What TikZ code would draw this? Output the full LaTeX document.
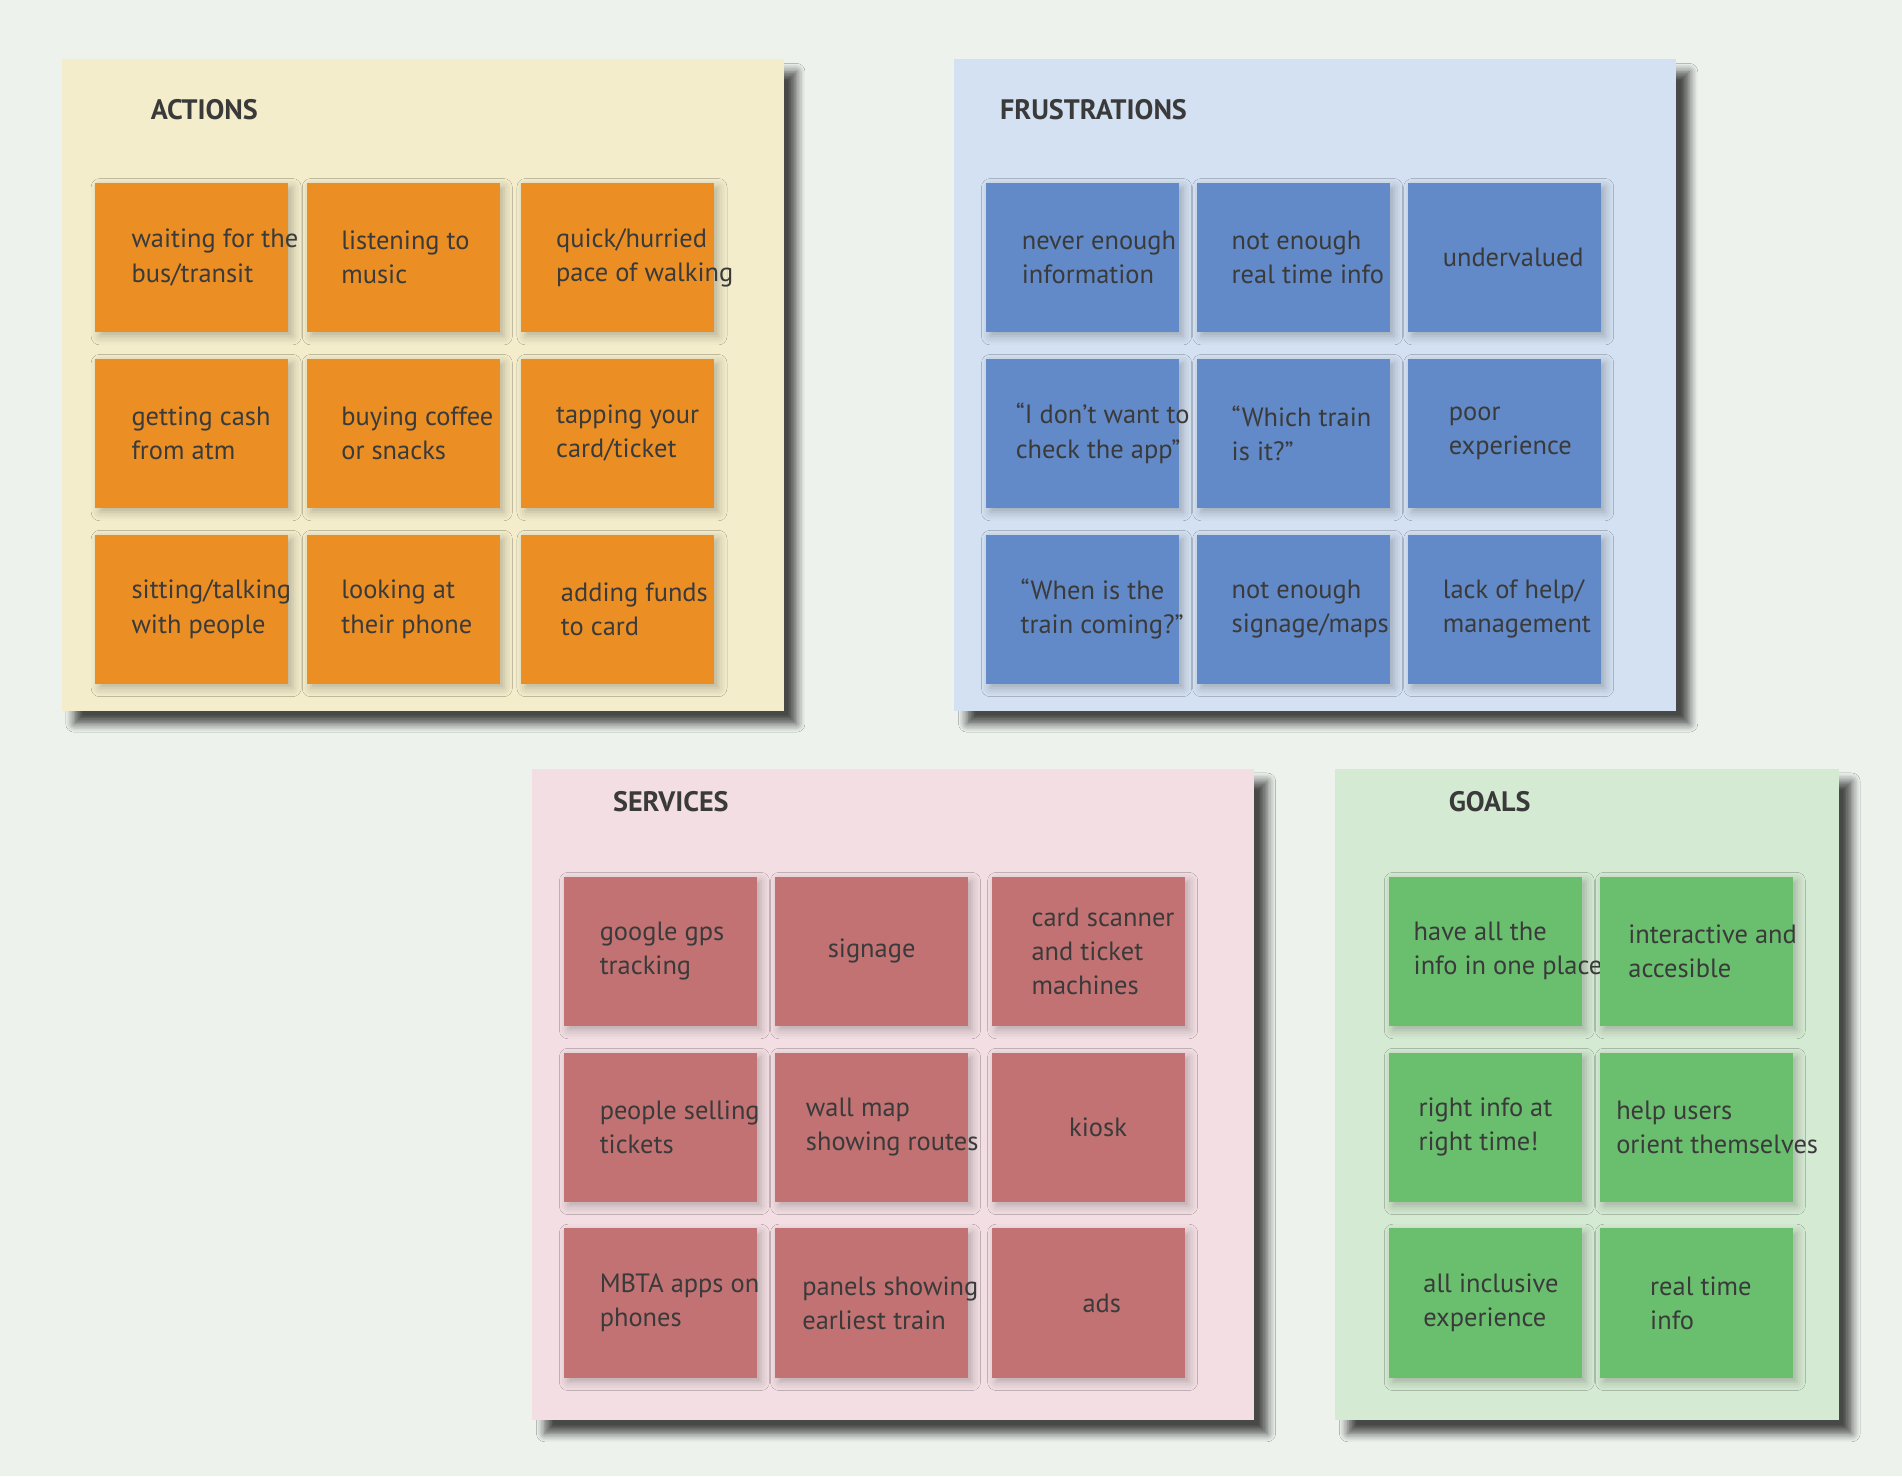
\documentclass[tikz,border=0pt]{standalone}
\usepackage{fontspec}
\setmainfont{PT Sans}
\usetikzlibrary{positioning,shadows.blur}
\definecolor{bgcol}{HTML}{EDF2ED}
\definecolor{actpanel}{HTML}{F4EDCB}
\definecolor{frupanel}{HTML}{D3E1F2}
\definecolor{serpanel}{HTML}{F3DFE3}
\definecolor{goapanel}{HTML}{D5EAD2}
\definecolor{actnote}{HTML}{EB8F25}
\definecolor{frunote}{HTML}{628AC8}
\definecolor{sernote}{HTML}{C27273}
\definecolor{goanote}{HTML}{6ABF6E}
\definecolor{inkcol}{HTML}{3A3A3A}
\tikzset{
  panel/.style={anchor=north west, minimum width=5.95cm, minimum height=5.37cm, inner sep=0pt,
    blur shadow={shadow xshift=3pt, shadow yshift=-3pt, shadow blur steps=6, shadow opacity=70}},
  panelwide/.style={panel, minimum width=4.15cm},
  heading/.style={anchor=west, text=inkcol, font=\fontsize{6.6}{8}\selectfont\bfseries},
  note/.style={anchor=north west, minimum width=1.59cm, minimum height=1.23cm, inner sep=0pt,
    blur shadow={shadow xshift=1pt, shadow yshift=-1pt, shadow blur steps=4, shadow opacity=25}},
  notetext/.style={anchor=west, align=left, text=inkcol, font=\fontsize{6.2}{8}\selectfont}
}
% \notebox{name}{x}{y}{colour}{text offset}{text}
\newcommand{\notebox}[6]{%
  \node[note, fill=#4] (#1) at (#2,#3) {};
  \node[notetext] (#1t) at ([xshift=#5]#1.west) {#6};
}
\begin{document}
\begin{tikzpicture}[x=0.01cm, y=-0.01cm]
  \fill[bgcol] (0,0) rectangle (1568,1217);
  \useasboundingbox (0,0) rectangle (1568,1217);
  % panels
  \node[panel, fill=actpanel] (actions) at (50,48) {};
  \node[panel, fill=frupanel] (frustrations) at (786,48) {};
  \node[panel, fill=serpanel] (services) at (438,633) {};
  \node[panelwide, fill=goapanel] (goals) at (1100,633) {};
  \node[heading] at (112,90) {ACTIONS};
  \node[heading] at (812,90) {FRUSTRATIONS};
  \node[heading] at (493,661) {SERVICES};
  \node[heading] at (1182,661) {GOALS};
  % actions
  \notebox{a1}{78}{150}{actnote}{0.18cm}{waiting for the\\bus/transit}
  \notebox{a2}{252}{150}{actnote}{0.17cm}{listening to\\music}
  \notebox{a3}{429}{150}{actnote}{0.17cm}{quick/hurried\\pace of walking}
  \notebox{a4}{78}{295}{actnote}{0.18cm}{getting cash\\from atm}
  \notebox{a5}{252}{295}{actnote}{0.17cm}{buying coffee\\or snacks}
  \notebox{a6}{429}{295}{actnote}{0.17cm}{tapping your\\card/ticket}
  \notebox{a7}{78}{440}{actnote}{0.18cm}{sitting/talking\\with people}
  \notebox{a8}{252}{440}{actnote}{0.17cm}{looking at\\their phone}
  \notebox{a9}{429}{440}{actnote}{0.21cm}{adding funds\\to card}
  % frustrations
  \notebox{f1}{812}{150}{frunote}{0.18cm}{never enough\\information}
  \notebox{f2}{986}{150}{frunote}{0.17cm}{not enough\\real time info}
  \notebox{f3}{1160}{150}{frunote}{0.17cm}{undervalued}
  \notebox{f4}{812}{295}{frunote}{0.13cm}{“I don’t want to\\check the app”}
  \notebox{f5}{986}{295}{frunote}{0.17cm}{“Which train\\is it?”}
  \notebox{f6}{1160}{295}{frunote}{0.22cm}{poor\\experience}
  \notebox{f7}{812}{440}{frunote}{0.17cm}{“When is the\\train coming?”}
  \notebox{f8}{986}{440}{frunote}{0.17cm}{not enough\\signage/maps}
  \notebox{f9}{1160}{440}{frunote}{0.17cm}{lack of help/\\management}
  % services
  \notebox{s1}{464}{722}{sernote}{0.18cm}{google gps\\tracking}
  \notebox{s2}{638}{722}{sernote}{0.32cm}{signage}
  \notebox{s3}{817}{722}{sernote}{0.21cm}{card scanner\\and ticket\\machines}
  \notebox{s4}{464}{867}{sernote}{0.18cm}{people selling\\tickets}
  \notebox{s5}{638}{867}{sernote}{0.14cm}{wall map\\showing routes}
  \notebox{s6}{817}{867}{sernote}{0.52cm}{kiosk}
  \notebox{s7}{464}{1012}{sernote}{0.18cm}{MBTA apps on\\phones}
  \notebox{s8}{638}{1012}{sernote}{0.11cm}{panels showing\\earliest train}
  \notebox{s9}{817}{1012}{sernote}{0.63cm}{ads}
  % goals
  \notebox{g1}{1144}{722}{goanote}{0.09cm}{have all the\\info in one place}
  \notebox{g2}{1318}{722}{goanote}{0.12cm}{interactive and\\accesible}
  \notebox{g3}{1144}{867}{goanote}{0.13cm}{right info at\\right time!}
  \notebox{g4}{1318}{867}{goanote}{0.02cm}{help users\\orient themselves}
  \notebox{g5}{1144}{1012}{goanote}{0.17cm}{all inclusive\\experience}
  \notebox{g6}{1318}{1012}{goanote}{0.30cm}{real time\\info}
\end{tikzpicture}
\end{document}
